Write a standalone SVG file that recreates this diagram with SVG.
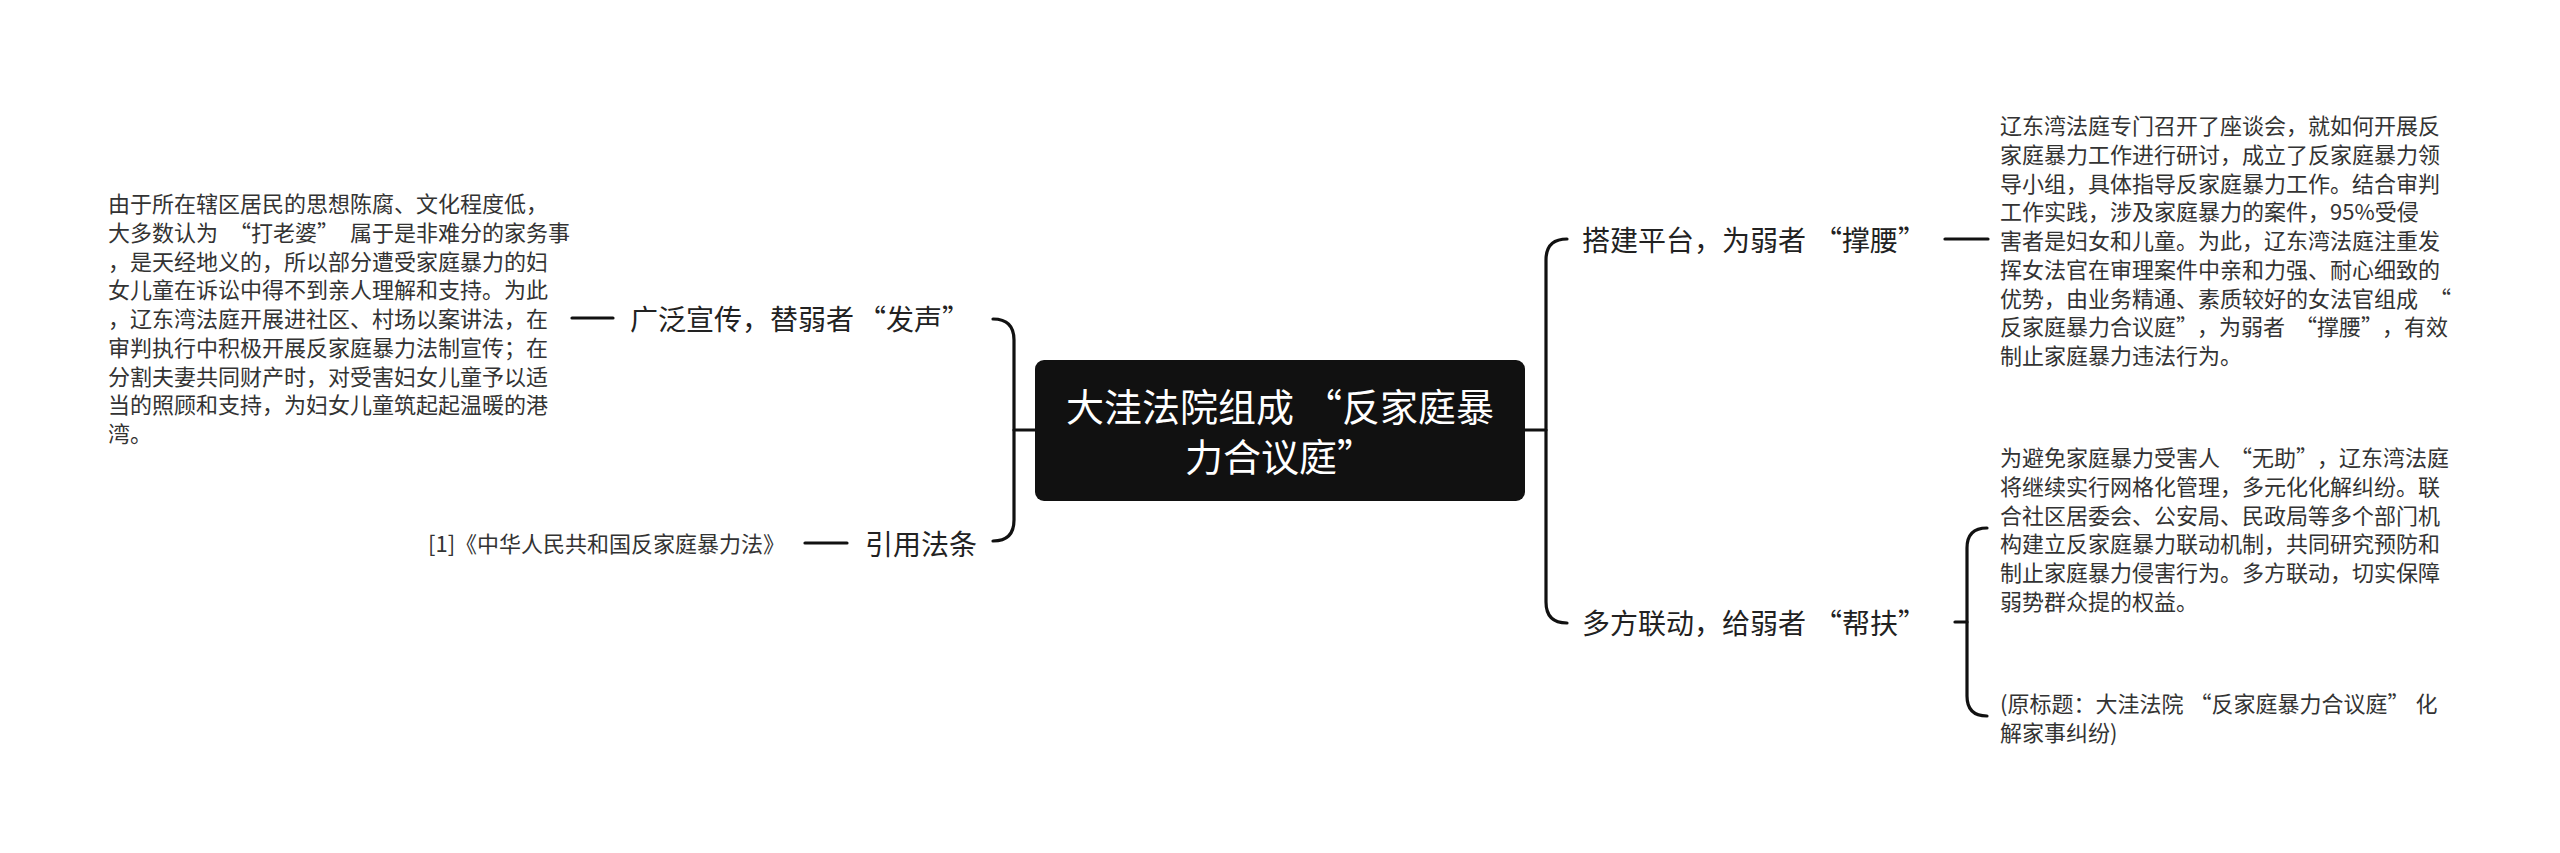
<svg xmlns="http://www.w3.org/2000/svg" width="2560" height="853" viewBox="0 0 2560 853">
<defs>
<style>
.cn{font-family:"Noto Sans CJK SC","Noto Sans",sans-serif;}
.leaf{font-size:22px;fill:#333;}
.topic{font-size:28px;fill:#222;}
.root{font-size:38px;fill:#fff;}
.ln{fill:none;stroke:#111;stroke-width:3.2;stroke-linecap:round;}
</style>
</defs>
<rect width="2560" height="853" fill="#fff"/>
<g id="connectors">
<path class="ln" d="M1035 430 H1014"/>
<path class="ln" d="M993 319 Q1014 319 1014 340 V520 Q1014 541 993 541"/>
<path class="ln" d="M572 318 H613"/>
<path class="ln" d="M805 543 H847"/>
<path class="ln" d="M1525 430 H1546"/>
<path class="ln" d="M1567 239 Q1546 239 1546 260 V602 Q1546 623 1567 623"/>
<path class="ln" d="M1945 239 H1988"/>
<path class="ln" d="M1955 622 H1967"/>
<path class="ln" d="M1987 528 Q1967 528 1967 548 V696 Q1967 716 1987 716"/>
</g>
<g id="root">
<rect x="1035" y="360" width="490" height="141" rx="9" fill="#111"/>
<text class="cn root" text-anchor="middle"><tspan x="1280" y="421">大洼法院组成<tspan dx="10">“</tspan>反家庭暴</tspan><tspan x="1280" y="471">力合议庭”</tspan></text>
</g>
<g id="topic-publicity">
<text class="cn topic" x="630" y="330">广泛宣传，替弱者<tspan dx="4">“</tspan>发声”</text>
</g>
<g id="leaf-publicity">
<text class="cn leaf">
<tspan x="108" y="212">由于所在辖区居民的思想陈腐、文化程度低，</tspan>
<tspan x="108" y="240.75">大多数认为<tspan dx="11">“</tspan>打老婆”<tspan dx="11">属</tspan>于是非难分的家务事</tspan>
<tspan x="108" y="269.5">，是天经地义的，所以部分遭受家庭暴力的妇</tspan>
<tspan x="108" y="298.25">女儿童在诉讼中得不到亲人理解和支持。为此</tspan>
<tspan x="108" y="327">，辽东湾法庭开展进社区、村场以案讲法，在</tspan>
<tspan x="108" y="355.75">审判执行中积极开展反家庭暴力法制宣传；在</tspan>
<tspan x="108" y="384.5">分割夫妻共同财产时，对受害妇女儿童予以适</tspan>
<tspan x="108" y="413.25">当的照顾和支持，为妇女儿童筑起起温暖的港</tspan>
<tspan x="108" y="442">湾。</tspan>
</text>
</g>
<g id="topic-law">
<text class="cn topic" x="865" y="555">引用法条</text>
</g>
<g id="leaf-law">
<text class="cn leaf" x="428" y="552">[1]《中华人民共和国反家庭暴力法》</text>
</g>
<g id="topic-platform">
<text class="cn topic" x="1582" y="251">搭建平台，为弱者<tspan dx="8">“</tspan>撑腰”</text>
</g>
<g id="leaf-platform">
<text class="cn leaf">
<tspan x="2000" y="134">辽东湾法庭专门召开了座谈会，就如何开展反</tspan>
<tspan x="2000" y="162.75">家庭暴力工作进行研讨，成立了反家庭暴力领</tspan>
<tspan x="2000" y="191.5">导小组，具体指导反家庭暴力工作。结合审判</tspan>
<tspan x="2000" y="220.25">工作实践，涉及家庭暴力的案件，95%受侵</tspan>
<tspan x="2000" y="249">害者是妇女和儿童。为此，辽东湾法庭注重发</tspan>
<tspan x="2000" y="277.75">挥女法官在审理案件中亲和力强、耐心细致的</tspan>
<tspan x="2000" y="306.5">优势，由业务精通、素质较好的女法官组成<tspan dx="11">“</tspan></tspan>
<tspan x="2000" y="335.25">反家庭暴力合议庭”<tspan dx="10">，</tspan>为弱者<tspan dx="10">“</tspan>撑腰”<tspan dx="10">，</tspan>有效</tspan>
<tspan x="2000" y="364">制止家庭暴力违法行为。</tspan>
</text>
</g>
<g id="topic-linkage">
<text class="cn topic" x="1582" y="634">多方联动，给弱者<tspan dx="8">“</tspan>帮扶”</text>
</g>
<g id="leaf-linkage">
<text class="cn leaf">
<tspan x="2000" y="466">为避免家庭暴力受害人<tspan dx="10">“</tspan>无助”<tspan dx="10">，</tspan>辽东湾法庭</tspan>
<tspan x="2000" y="494.75">将继续实行网格化管理，多元化化解纠纷。联</tspan>
<tspan x="2000" y="523.5">合社区居委会、公安局、民政局等多个部门机</tspan>
<tspan x="2000" y="552.25">构建立反家庭暴力联动机制，共同研究预防和</tspan>
<tspan x="2000" y="581">制止家庭暴力侵害行为。多方联动，切实保障</tspan>
<tspan x="2000" y="609.75">弱势群众提的权益。</tspan>
</text>
</g>
<g id="leaf-source">
<text class="cn leaf">
<tspan x="2000" y="712">(原标题：大洼法院<tspan dx="6">“</tspan>反家庭暴力合议庭”<tspan dx="6">化</tspan></tspan>
<tspan x="2000" y="741">解家事纠纷)</tspan>
</text>
</g>
</svg>
